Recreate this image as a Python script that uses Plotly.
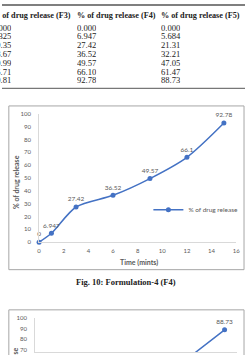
import plotly.graph_objects as go

# ---------------- data ----------------
time_min = [0, 1, 3, 6, 9, 12, 15]
f3_release = ["0.000", "5.325", "19.35", "28.67", "40.99", "55.71", "80.81"]
f4_release = [0.000, 6.947, 27.42, 36.52, 49.57, 66.10, 92.78]
f5_release = [0.000, 5.684, 21.31, 32.21, 47.05, 61.47, 88.73]
f4_table = ["0.000", "6.947", "27.42", "36.52", "49.57", "66.10", "92.78"]
f5_table = ["0.000", "5.684", "21.31", "32.21", "47.05", "61.47", "88.73"]
f4_labels = ["0", "6.947", "27.42", "36.52", "49.57", "66.1", "92.78"]
f5_labels = ["0", "5.684", "21.31", "32.21", "47.05", "61.47", "88.73"]
table_headers = ["% of drug release (F3)", "% of drug release (F4)", "% of drug release (F5)"]
x_ticks = [0, 2, 4, 6, 8, 10, 12, 14, 16]
y_ticks = [0, 10, 20, 30, 40, 50, 60, 70, 80, 90, 100]
series_name = "% of drug release"
caption = "Fig. 10: Formulation-4 (F4)"

W, H = 249, 355
def xp(px):
    return px / W
def yp(py):
    return 1 - py / H

BLUE = "#4472C4"
GRAY = "#595959"
SANS = "Lato, 'Liberation Sans', sans-serif"
SERIF = "'Liberation Serif', serif"

fig = go.Figure()

fig.add_trace(go.Scatter(
    x=time_min, y=f4_release, mode="lines+markers+text",
    name=series_name, text=f4_labels, textposition="top center",
    textfont=dict(family=SANS, size=6.5, color=GRAY),
    line=dict(color=BLUE, width=1.5, shape="spline", smoothing=0.8),
    marker=dict(color=BLUE, size=5),
    cliponaxis=False, xaxis="x", yaxis="y", showlegend=True,
))
fig.add_trace(go.Scatter(
    x=time_min, y=f5_release, mode="lines+markers+text",
    name=series_name, text=f5_labels, textposition="top center",
    textfont=dict(family=SANS, size=6.5, color=GRAY),
    line=dict(color=BLUE, width=1.5),
    marker=dict(color=BLUE, size=5),
    cliponaxis=False, xaxis="x2", yaxis="y2", showlegend=False,
))

axis_common = dict(showgrid=False, zeroline=False, showline=True,
                   linecolor="#d9d9d9", linewidth=1, ticks="",
                   tickfont=dict(family=SANS, size=6, color=GRAY))

# chart 1 geometry (pixels)
c1_left, c1_right, c1_y0, c1_y100 = 38, 240, 243, 112
fig.update_layout(
    xaxis=dict(domain=[xp(c1_left), xp(c1_right)], range=[0, 16], tickvals=x_ticks,
               anchor="y", ticklabelstandoff=3, **axis_common),
    yaxis=dict(domain=[yp(c1_y0), yp(c1_y100)], range=[0, 100], tickvals=y_ticks,
               anchor="x", ticklabelstandoff=6, **axis_common),
)

# chart 2 geometry: 100 at y=320, 11 px per 10 units, cut by page bottom
c2_left, c2_right, c2_y100 = 34, 241, 320
ppu = 1.1
c2_ymin = 100 - (H - c2_y100) / ppu
fig.update_layout(
    xaxis2=dict(domain=[xp(c2_left), xp(c2_right)], range=[0, 16], tickvals=x_ticks,
                anchor="y2", showticklabels=False, **axis_common),
    yaxis2=dict(domain=[0, yp(c2_y100)], range=[c2_ymin, 100], tickvals=y_ticks,
                anchor="x2", ticklabelstandoff=6, **axis_common),
)

annotations = []
# table header and rows
col_x = [-10, 77, 163]
header_y = 12
row_y0, row_dy = 24, 9
for cx, htxt in zip(col_x, table_headers):
    annotations.append(dict(x=xp(cx), y=yp(header_y), xref="paper", yref="paper",
                            text="<b>" + htxt + "</b>", showarrow=False,
                            xanchor="left", yanchor="middle", borderpad=0, borderwidth=0,
                            font=dict(family=SERIF, size=8.2, color="#222222")))
val_x = [-10.5, 77, 163]
for col, cx in zip([f3_release, f4_table, f5_table], val_x):
    for i, v in enumerate(col):
        annotations.append(dict(x=xp(cx), y=yp(row_y0 + i * row_dy),
                                xref="paper", yref="paper", text=v, showarrow=False,
                                xanchor="left", yanchor="middle", borderpad=0, borderwidth=0,
                                height=8,
                                font=dict(family=SERIF, size=8.6, color="#222222")))

# axis titles chart 1
annotations.append(dict(x=xp(15), y=yp(182), xref="paper", yref="paper",
                        text="<b>% of drug release</b>", textangle=-90, showarrow=False,
                        xanchor="center", yanchor="middle",
                        font=dict(family=SANS, size=7, color=GRAY)))
annotations.append(dict(x=xp(140), y=yp(264), xref="paper", yref="paper",
                        text="<b>Time (mints)</b>", showarrow=False,
                        xanchor="center", yanchor="middle",
                        font=dict(family=SANS, size=7, color=GRAY)))
# caption
annotations.append(dict(x=xp(127), y=yp(284), xref="paper", yref="paper",
                        text="<b>" + caption + "</b>", showarrow=False,
                        xanchor="center", yanchor="middle",
                        font=dict(family=SERIF, size=8.5, color="#222222")))
# chart 2 y title (mostly below the page)
annotations.append(dict(x=xp(13), y=yp(378), xref="paper", yref="paper",
                        text="<b>% of drug release</b>", textangle=-90, showarrow=False,
                        xanchor="center", yanchor="middle",
                        font=dict(family=SANS, size=7, color=GRAY)))

shapes = [
    dict(type="line", xref="paper", yref="paper", x0=0, x1=1, y0=yp(1), y1=yp(1),
         line=dict(color="#555555", width=1.5)),
    dict(type="line", xref="paper", yref="paper", x0=0, x1=1, y0=yp(86), y1=yp(86),
         line=dict(color="#555555", width=1)),
    dict(type="rect", xref="paper", yref="paper", x0=xp(7), x1=xp(248), y0=yp(271), y1=yp(104),
         line=dict(color="#a6a6a6", width=1)),
    dict(type="rect", xref="paper", yref="paper", x0=xp(7), x1=xp(248), y0=yp(400), y1=yp(312),
         line=dict(color="#a6a6a6", width=1)),
]

fig.update_layout(
    width=W, height=H, autosize=False,
    margin=dict(l=0, r=0, t=0, b=0, pad=0),
    paper_bgcolor="white", plot_bgcolor="white",
    annotations=annotations, shapes=shapes,
    legend=dict(x=xp(150), y=yp(210), xanchor="left", yanchor="middle",
                bgcolor="rgba(0,0,0,0)", font=dict(family=SANS, size=6.5, color=GRAY),
                itemwidth=30),
    showlegend=True,
)

fig.write_html("out.html")
